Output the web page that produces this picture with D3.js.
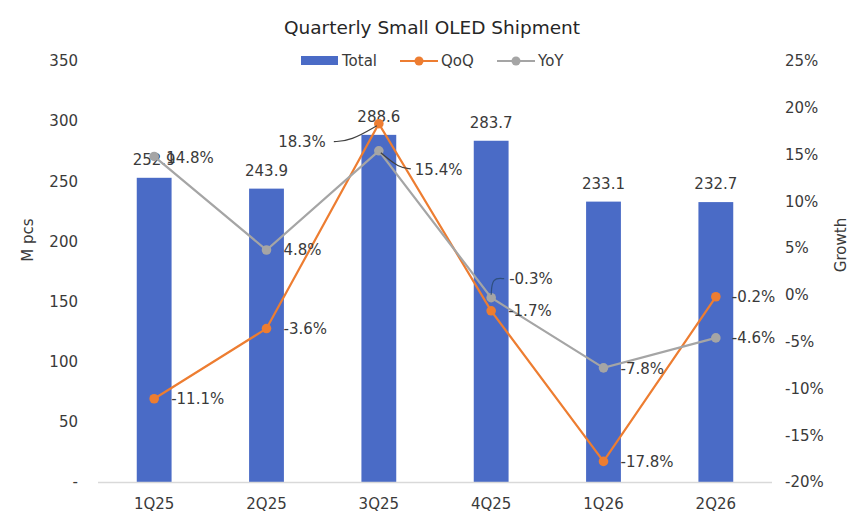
<!DOCTYPE html>
<html>
<head>
<meta charset="utf-8">
<script src="https://cdn.jsdelivr.net/npm/d3@7"></script>
<style>
  html, body { margin: 0; padding: 0; background: #fff; }
  svg { display: block; font-family: "DejaVu Sans", sans-serif; }
</style>
</head>
<body>
<svg id="chart" width="868" height="531"></svg>
<script>
// ---- data ----
const categories = ["1Q25", "2Q25", "3Q25", "4Q25", "1Q26", "2Q26"];
const totals = [252.9, 243.9, 288.6, 283.7, 233.1, 232.7];
const qoq = [-11.1, -3.6, 18.3, -1.7, -17.8, -0.2];
const yoy = [14.8, 4.8, 15.4, -0.3, -7.8, -4.6];
const leftTicks = [0, 50, 100, 150, 200, 250, 300, 350];
const rightTicks = [-20, -15, -10, -5, 0, 5, 10, 15, 20, 25];
const title = "Quarterly Small OLED Shipment";

// ---- styles ----
const barColor = "#4A6BC6";
const qoqColor = "#ED7D31";
const yoyColor = "#A5A5A5";
const textColor = "#3A3A3A";

const svg = d3.select("#chart");

const x = d3.scaleBand().domain(categories).range([98, 772]).paddingInner(0.69).paddingOuter(0.345);
const cx = c => x(c) + x.bandwidth() / 2;
const yL = d3.scaleLinear().domain([0, 350]).range([482, 61]);
const yR = d3.scaleLinear().domain([-20, 25]).range([482, 61]);

// title
svg.append("text").attr("x", 432).attr("y", 34).attr("text-anchor", "middle")
  .attr("font-size", 18.5).attr("fill", "#262626").text(title);

// left axis
const gL = svg.append("g").attr("transform", "translate(80,0)")
  .call(d3.axisLeft(yL).tickValues(leftTicks).tickSize(0).tickPadding(2)
    .tickFormat(d => d === 0 ? "-" : d));
gL.select(".domain").remove();
gL.selectAll("text").attr("font-size", 15).attr("fill", textColor).attr("font-family", "DejaVu Sans");

// right axis
const gR = svg.append("g").attr("transform", "translate(783,0)")
  .call(d3.axisRight(yR).tickValues(rightTicks).tickSize(0).tickPadding(2)
    .tickFormat(d => d + "%"));
gR.select(".domain").remove();
gR.selectAll("text").attr("font-size", 15).attr("fill", textColor).attr("font-family", "DejaVu Sans");

// axis titles
svg.append("text").attr("transform", "translate(33,240) rotate(-90)").attr("text-anchor", "middle")
  .attr("font-size", 15).attr("fill", textColor).text("M pcs");
svg.append("text").attr("transform", "translate(846,245) rotate(-90)").attr("text-anchor", "middle")
  .attr("font-size", 15).attr("fill", textColor).text("Growth");

// bars
svg.append("g").selectAll("rect").data(categories).join("rect")
  .attr("x", d => x(d)).attr("width", x.bandwidth())
  .attr("y", (d, i) => yL(totals[i])).attr("height", (d, i) => yL(0) - yL(totals[i]))
  .attr("fill", barColor);

// baseline
svg.append("line").attr("x1", 98).attr("x2", 772).attr("y1", yL(0) + 0.5).attr("y2", yL(0) + 0.5)
  .attr("stroke", "#D9D9D9").attr("stroke-width", 1.5);

// x labels
const gX = svg.append("g").attr("transform", `translate(0,${yL(0)})`)
  .call(d3.axisBottom(x).tickSize(0).tickPadding(16));
gX.select(".domain").remove();
gX.selectAll("text").attr("font-size", 15).attr("fill", textColor).attr("font-family", "DejaVu Sans");

// bar value labels
svg.append("g").selectAll("text").data(categories).join("text")
  .attr("x", d => cx(d)).attr("y", (d, i) => yL(totals[i]) - 13)
  .attr("text-anchor", "middle").attr("font-size", 15).attr("fill", textColor)
  .text((d, i) => totals[i].toFixed(1));

// lines
function drawSeries(vals, color) {
  const line = d3.line().x((d, i) => cx(categories[i])).y(d => yR(d));
  svg.append("path").datum(vals).attr("d", line).attr("fill", "none")
    .attr("stroke", color).attr("stroke-width", 2.2);
  svg.append("g").selectAll("circle").data(vals).join("circle")
    .attr("cx", (d, i) => cx(categories[i])).attr("cy", d => yR(d)).attr("r", 4.8)
    .attr("fill", color);
}
drawSeries(qoq, qoqColor);
drawSeries(yoy, yoyColor);

// line labels: offsets relative to the point [dx, dy, anchor]
const qoqLabelPlace = [[17, 0, "start"], [17, 0, "start"], [-53, 18, "end"], [17, 0, "start"], [17, 0, "start"], [16, 0, "start"]];
const yoyLabelPlace = [[12, 1, "start"], [17, 0, "start"], [36, 19, "start"], [18, -19, "start"], [17, 1, "start"], [16, 0, "start"]];

function drawLabels(vals, place) {
  svg.append("g").selectAll("text").data(vals).join("text")
    .attr("x", (d, i) => cx(categories[i]) + place[i][0])
    .attr("y", (d, i) => yR(d) + place[i][1])
    .attr("dy", "0.35em").attr("text-anchor", (d, i) => place[i][2])
    .attr("font-size", 15).attr("fill", textColor)
    .text(d => d.toFixed(1) + "%");
}
drawLabels(qoq, qoqLabelPlace);
drawLabels(yoy, yoyLabelPlace);

// leader lines
const leader = d3.line().curve(d3.curveBasis);
const p3q = [cx(categories[2]), yR(qoq[2])];
svg.append("path").attr("d", leader([[p3q[0] - 45, p3q[1] + 18], [p3q[0] - 28, p3q[1] + 17], [p3q[0] - 2, p3q[1] + 2]]))
  .attr("fill", "none").attr("stroke", "#404040").attr("stroke-width", 1.2);
const p3y = [cx(categories[2]), yR(yoy[2])];
svg.append("path").attr("d", leader([[p3y[0] + 2, p3y[1] + 2], [p3y[0] + 20, p3y[1] + 17], [p3y[0] + 32, p3y[1] + 18]]))
  .attr("fill", "none").attr("stroke", "#404040").attr("stroke-width", 1.2);
const p4y = [cx(categories[3]), yR(yoy[3])];
svg.append("path").attr("d", leader([[p4y[0], p4y[1] - 3], [p4y[0] + 1, p4y[1] - 20], [p4y[0] + 13, p4y[1] - 19]]))
  .attr("fill", "none").attr("stroke", "#2F4F7F").attr("stroke-width", 1.2);

// legend
const lg = svg.append("g").attr("font-size", 15).attr("fill", textColor);
lg.append("rect").attr("x", 301).attr("y", 56).attr("width", 37).attr("height", 9).attr("fill", barColor);
lg.append("text").attr("x", 342).attr("y", 61).attr("dy", "0.35em").attr("fill", textColor).text("Total");
lg.append("line").attr("x1", 400).attr("x2", 438).attr("y1", 61).attr("y2", 61).attr("stroke", qoqColor).attr("stroke-width", 2.2);
lg.append("circle").attr("cx", 419).attr("cy", 61).attr("r", 4.5).attr("fill", qoqColor);
lg.append("text").attr("x", 441).attr("y", 61).attr("dy", "0.35em").attr("fill", textColor).text("QoQ");
lg.append("line").attr("x1", 497).attr("x2", 535).attr("y1", 61).attr("y2", 61).attr("stroke", yoyColor).attr("stroke-width", 2.2);
lg.append("circle").attr("cx", 516).attr("cy", 61).attr("r", 4.5).attr("fill", yoyColor);
lg.append("text").attr("x", 538).attr("y", 61).attr("dy", "0.35em").attr("fill", textColor).text("YoY");
</script>
</body>
</html>
